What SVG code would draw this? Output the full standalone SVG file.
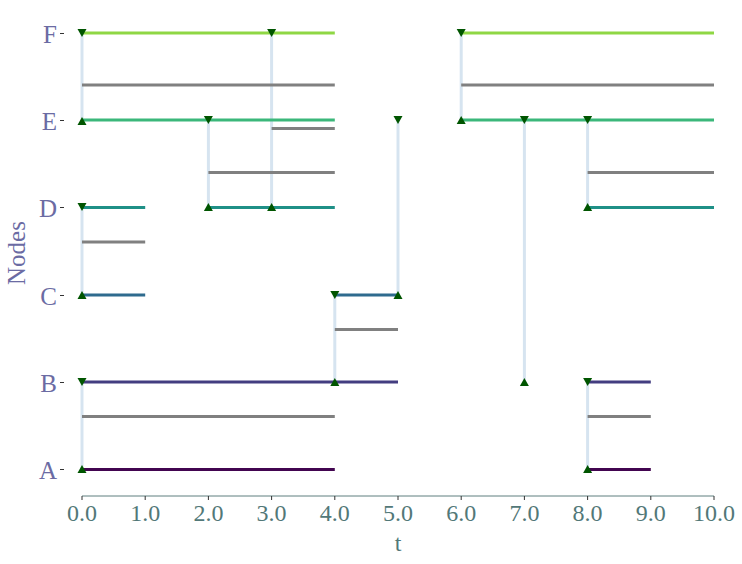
<svg xmlns="http://www.w3.org/2000/svg" width="742" height="564" viewBox="0 0 742 564">
<defs>
<style>
.seg{stroke-width:3;fill:none}
.g{stroke:#808080}
.cF{stroke:#8fd744}.cE{stroke:#3bb77a}.cD{stroke:#1f9087}.cC{stroke:#2e6b8e}.cB{stroke:#433d80}.cA{stroke:#420550}
.con{stroke:#d6e4f0;stroke-width:3;fill:none}
.ylab{font-family:"Liberation Serif","DejaVu Serif",serif;font-size:25px;fill:#6b6ba3;text-anchor:end}
.xlab{font-family:"Liberation Serif","DejaVu Serif",serif;font-size:24px;fill:#527878;text-anchor:middle}
.ytick{stroke:#333;stroke-width:1}
.xtick{stroke:#333;stroke-width:1}
.dn,.up{fill:#005500}
</style>
<path id="down" d="M-4.5,-4 L4.5,-4 L0,4 Z"/>
<path id="upt" d="M-4.5,4 L4.5,4 L0,-4 Z"/>
</defs>
<rect width="742" height="564" fill="#fff"/>

<g id="connectors">
<line class="con" x1="82" y1="33" x2="82" y2="120"/>
<line class="con" x1="82" y1="207" x2="82" y2="295"/>
<line class="con" x1="82" y1="382" x2="82" y2="469"/>
<line class="con" x1="208.4" y1="120" x2="208.4" y2="207"/>
<line class="con" x1="271.6" y1="33" x2="271.6" y2="207"/>
<line class="con" x1="334.8" y1="295" x2="334.8" y2="382"/>
<line class="con" x1="398" y1="120" x2="398" y2="295"/>
<line class="con" x1="461.2" y1="33" x2="461.2" y2="120"/>
<line class="con" x1="524.4" y1="120" x2="524.4" y2="382"/>
<line class="con" x1="587.6" y1="120" x2="587.6" y2="207"/>
<line class="con" x1="587.6" y1="382" x2="587.6" y2="469"/>
</g>

<g id="segments">
<line class="seg cF" x1="82" y1="33" x2="334.8" y2="33"/>
<line class="seg cF" x1="461.2" y1="33" x2="714" y2="33"/>
<line class="seg g" x1="82" y1="85" x2="334.8" y2="85"/>
<line class="seg g" x1="461.2" y1="85" x2="714" y2="85"/>
<line class="seg cE" x1="82" y1="120" x2="334.8" y2="120"/>
<line class="seg cE" x1="461.2" y1="120" x2="714" y2="120"/>
<line class="seg g" x1="271.6" y1="128.5" x2="334.8" y2="128.5"/>
<line class="seg g" x1="208.4" y1="172.5" x2="334.8" y2="172.5"/>
<line class="seg g" x1="587.6" y1="172.5" x2="714" y2="172.5"/>
<line class="seg cD" x1="82" y1="207.5" x2="145.2" y2="207.5"/>
<line class="seg cD" x1="208.4" y1="207.5" x2="334.8" y2="207.5"/>
<line class="seg cD" x1="587.6" y1="207.5" x2="714" y2="207.5"/>
<line class="seg g" x1="82" y1="242" x2="145.2" y2="242"/>
<line class="seg cC" x1="82" y1="295" x2="145.2" y2="295"/>
<line class="seg cC" x1="334.8" y1="295" x2="398" y2="295"/>
<line class="seg g" x1="334.8" y1="329.5" x2="398" y2="329.5"/>
<line class="seg cB" x1="82" y1="382" x2="398" y2="382"/>
<line class="seg cB" x1="587.6" y1="382" x2="650.8" y2="382"/>
<line class="seg g" x1="82" y1="416.5" x2="334.8" y2="416.5"/>
<line class="seg g" x1="587.6" y1="416.5" x2="650.8" y2="416.5"/>
<line class="seg cA" x1="82" y1="469.5" x2="334.8" y2="469.5"/>
<line class="seg cA" x1="587.6" y1="469.5" x2="650.8" y2="469.5"/>
</g>

<g id="markers">
<use href="#down" class="dn" x="82" y="33"/><use href="#upt" class="up" x="82" y="121"/>
<use href="#down" class="dn" x="82" y="207"/><use href="#upt" class="up" x="82" y="295"/>
<use href="#down" class="dn" x="82" y="382"/><use href="#upt" class="up" x="82" y="469"/>
<use href="#down" class="dn" x="208.4" y="120"/><use href="#upt" class="up" x="208.4" y="207"/>
<use href="#down" class="dn" x="271.6" y="33"/><use href="#upt" class="up" x="271.6" y="207"/>
<use href="#down" class="dn" x="334.8" y="295"/><use href="#upt" class="up" x="334.8" y="382"/>
<use href="#down" class="dn" x="398" y="120"/><use href="#upt" class="up" x="398" y="295"/>
<use href="#down" class="dn" x="461.2" y="33"/><use href="#upt" class="up" x="461.2" y="120"/>
<use href="#down" class="dn" x="524.4" y="120"/><use href="#upt" class="up" x="524.4" y="382"/>
<use href="#down" class="dn" x="587.6" y="120"/><use href="#upt" class="up" x="587.6" y="207"/>
<use href="#down" class="dn" x="587.6" y="382"/><use href="#upt" class="up" x="587.6" y="469"/>
</g>

<g id="y-axis">
<line class="ytick" x1="60" y1="33.5" x2="64" y2="33.5"/>
<line class="ytick" x1="60" y1="120.5" x2="64" y2="120.5"/>
<line class="ytick" x1="60" y1="207.5" x2="64" y2="207.5"/>
<line class="ytick" x1="60" y1="295.5" x2="64" y2="295.5"/>
<line class="ytick" x1="60" y1="382.5" x2="64" y2="382.5"/>
<line class="ytick" x1="60" y1="469.5" x2="64" y2="469.5"/>
<text class="ylab" x="57" y="43">F</text>
<text class="ylab" x="57" y="130">E</text>
<text class="ylab" x="57" y="217">D</text>
<text class="ylab" x="57" y="305">C</text>
<text class="ylab" x="57" y="392">B</text>
<text class="ylab" x="57" y="479">A</text>
<text class="ylab" style="text-anchor:middle" transform="translate(25,253) rotate(-90)">Nodes</text>
</g>

<g id="x-axis">
<line x1="82" y1="496" x2="714" y2="496" stroke="#5e7e7e" stroke-width="1"/>
<g class="xtick">
<line x1="82" y1="496" x2="82" y2="500"/><line x1="145.2" y1="496" x2="145.2" y2="500"/>
<line x1="208.4" y1="496" x2="208.4" y2="500"/><line x1="271.6" y1="496" x2="271.6" y2="500"/>
<line x1="334.8" y1="496" x2="334.8" y2="500"/><line x1="398" y1="496" x2="398" y2="500"/>
<line x1="461.2" y1="496" x2="461.2" y2="500"/><line x1="524.4" y1="496" x2="524.4" y2="500"/>
<line x1="587.6" y1="496" x2="587.6" y2="500"/><line x1="650.8" y1="496" x2="650.8" y2="500"/>
<line x1="714" y1="496" x2="714" y2="500"/>
</g>
<text class="xlab" x="82" y="521">0.0</text>
<text class="xlab" x="145.2" y="521">1.0</text>
<text class="xlab" x="208.4" y="521">2.0</text>
<text class="xlab" x="271.6" y="521">3.0</text>
<text class="xlab" x="334.8" y="521">4.0</text>
<text class="xlab" x="398" y="521">5.0</text>
<text class="xlab" x="461.2" y="521">6.0</text>
<text class="xlab" x="524.4" y="521">7.0</text>
<text class="xlab" x="587.6" y="521">8.0</text>
<text class="xlab" x="650.8" y="521">9.0</text>
<text class="xlab" x="714" y="521">10.0</text>
<text class="xlab" x="398" y="551">t</text>
</g>
</svg>
